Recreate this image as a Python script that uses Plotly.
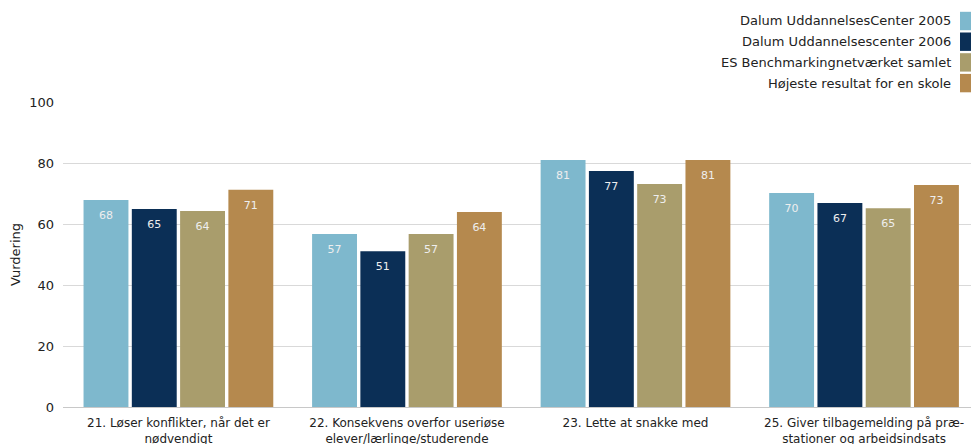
import plotly.graph_objects as go

categories = ["21. Løser konflikter, når det er<br>nødvendigt",
              "22. Konsekvens overfor useriøse<br>elever/lærlinge/studerende",
              "23. Lette at snakke med",
              "25. Giver tilbagemelding på præ-<br>stationer og arbeidsindsats"]
series_names = ["Dalum UddannelsesCenter 2005",
                "Dalum Uddannelsescenter 2006",
                "ES Benchmarkingnetværket samlet",
                "Højeste resultat for en skole"]
values_2005 = [67.9, 56.7, 81.0, 70.2]
values_2006 = [64.9, 51.1, 77.4, 66.9]
values_es = [64.3, 56.7, 73.1, 65.2]
values_max = [71.2, 63.9, 81.0, 72.8]
colors = ["#7EB8CD", "#0B2F56", "#A99D6C", "#B5894E"]
y_ticks = [0, 20, 40, 60, 80, 100]

FONT = "DejaVu Sans"
LABEL_DROP = 5.3  # label sits this far (in axis units) below bar top

W, H = 971, 444
ML, MT, MB, MR = 63, 102, 37, 0
plot_w, plot_h = W - ML - MR, H - MT - MB

fig = go.Figure()
all_vals = [values_2005, values_2006, values_es, values_max]
for i, (name, vals, col) in enumerate(zip(series_names, all_vals, colors)):
    fig.add_trace(go.Bar(
        x=categories, y=vals, name=name, marker_color=col, marker_line_width=0,
        offsetgroup=str(i), showlegend=False, hoverinfo="y",
    ))
for i, vals in enumerate(all_vals):
    fig.add_trace(go.Scatter(
        x=categories, y=[v - LABEL_DROP for v in vals], mode="text",
        text=[f"{v:.0f}" for v in vals], offsetgroup=str(i),
        textfont=dict(color="#EEEEEE", size=11, family=FONT),
        showlegend=False, hoverinfo="skip",
    ))

# custom legend (text right, swatch on right); coordinates in figure pixels
for i, (name, col) in enumerate(zip(series_names, colors)):
    yc = 21 + i * 20.7
    fig.add_annotation(xref="paper", yref="paper", x=(953 - ML) / plot_w,
                       y=1 + (MT - yc) / plot_h,
                       text=name, showarrow=False, xanchor="right", yanchor="middle",
                       font=dict(size=13, color="#222", family=FONT))
    fig.add_shape(type="rect", xref="paper", yref="paper", layer="above",
                  x0=(960 - ML) / plot_w, x1=(972 - ML) / plot_w,
                  y0=1 + (MT - (yc + 9.2)) / plot_h, y1=1 + (MT - (yc - 9.2)) / plot_h,
                  fillcolor=col, line=dict(width=0))

fig.update_layout(
    width=W, height=H,
    margin=dict(l=ML, r=MR, t=MT, b=MB, autoexpand=False),
    paper_bgcolor="white", plot_bgcolor="white",
    barmode="group", scattermode="group", bargap=0.155, bargroupgap=0.07,
    font=dict(family=FONT, size=12, color="#222"),
    xaxis=dict(showgrid=False, ticks="", showline=False, tickfont=dict(size=12),
               automargin=False, ticklabelstandoff=7, range=[-0.505, 3.468]),
    yaxis=dict(range=[0, 100], tickvals=y_ticks, gridcolor="#D9D9D9", gridwidth=1,
               zeroline=True, zerolinecolor="#C8C8C8", zerolinewidth=1,
               title=dict(text="Vurdering", font=dict(size=13), standoff=5),
               tickfont=dict(size=13), ticks="", ticklabelstandoff=8,
               automargin=False),
)
fig.write_html("out.html", config={"displayModeBar": False},
               post_script="document.body.style.margin='0';"
                           "document.body.style.overflow='hidden';")
